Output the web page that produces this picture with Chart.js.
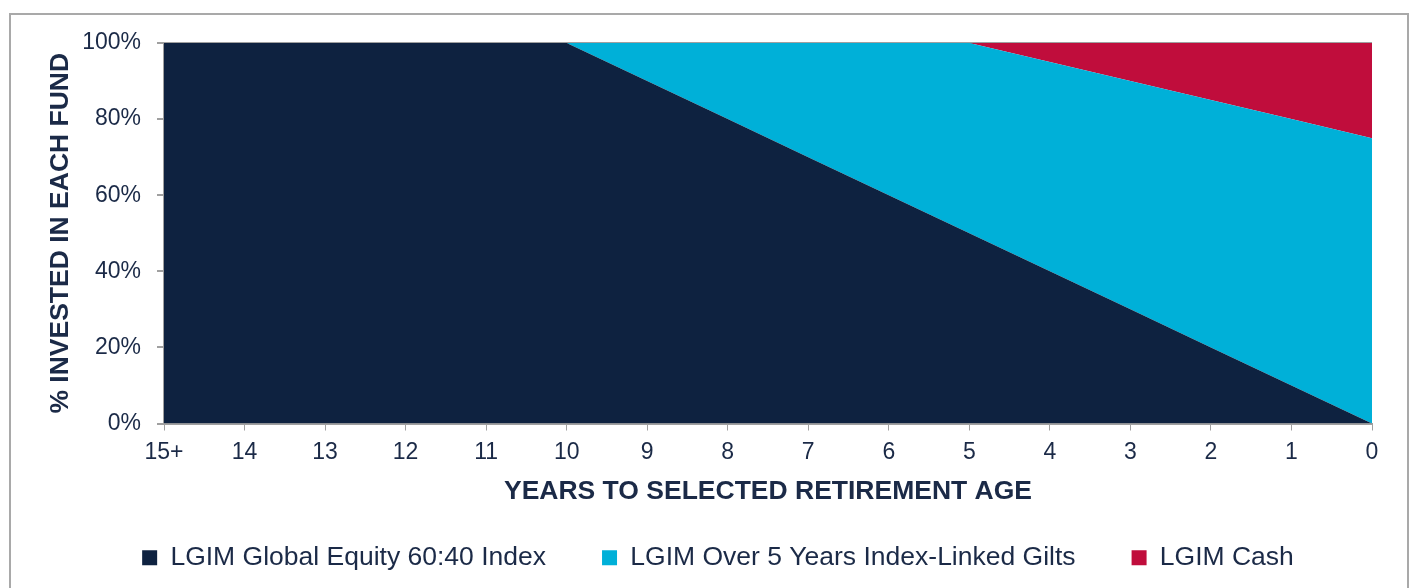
<!DOCTYPE html>
<html>
<head>
<meta charset="utf-8">
<script src="https://cdn.jsdelivr.net/npm/chart.js@4.4.1/dist/chart.umd.min.js"></script>
<style>
  html, body { margin: 0; padding: 0; background: #fff; }
  #wrap { position: relative; width: 1411px; height: 588px; overflow: hidden; }
  #frame { position: absolute; left: 9px; top: 13px; width: 1400px; height: 600px; border: 2px solid #a9a9a9; box-sizing: border-box; }
  canvas { position: absolute; left: 0; top: 0; }
</style>
</head>
<body>
<div id="wrap">
  <div id="frame"></div>
  <canvas id="chart" width="1411" height="588"></canvas>
</div>
<script>
// data
const years = ['15+', '14', '13', '12', '11', '10', '9', '8', '7', '6', '5', '4', '3', '2', '1', '0'];
const equity = [100, 100, 100, 100, 100, 100, 90, 80, 70, 60, 50, 40, 30, 20, 10, 0];
const gilts = [0, 0, 0, 0, 0, 0, 10, 20, 30, 40, 50, 55, 60, 65, 70, 75];
const cash = [0, 0, 0, 0, 0, 0, 0, 0, 0, 0, 0, 5, 10, 15, 20, 25];
const yTicks = [0, 20, 40, 60, 80, 100];

const navy = '#0e2240';
const textCol = '#1b2a47';
const axisGrey = '#a0a0a0';
const font = 'Liberation Sans, Arial, sans-serif';

const area = (label, data, color, fill) => ({
  label,
  data,
  backgroundColor: color,
  borderColor: color,
  borderWidth: 0,
  pointRadius: 0,
  fill,
  tension: 0,
});

// legend in the original is centred on the whole frame, not the plot side
const legendShift = {
  id: 'legendShift',
  afterLayout(chart) {
    chart.legend.left += 32;
    chart.legend.right += 32;
  },
};

const ctx = document.getElementById('chart').getContext('2d');
new Chart(ctx, {
  type: 'line',
  data: {
    labels: years,
    datasets: [
      area('LGIM Global Equity 60:40 Index', equity, navy, 'origin'),
      area('LGIM Over 5 Years Index-Linked Gilts', gilts, '#00b0d8', '-1'),
      area('LGIM Cash', cash, '#c00d3c', '-1'),
    ],
  },
  plugins: [legendShift],
  options: {
    responsive: false,
    animation: false,
    layout: { padding: { left: 0, right: 39, top: 43, bottom: 7 } },
    plugins: {
      tooltip: { enabled: false },
      legend: {
        position: 'bottom',
        labels: {
          color: textCol,
          font: { family: font, size: 26.5 },
          boxWidth: 15,
          boxHeight: 15,
          padding: 56,
        },
      },
    },
    scales: {
      x: {
        offset: false,
        grid: { drawOnChartArea: false, tickLength: 7, tickColor: axisGrey, color: axisGrey },
        border: { color: axisGrey, width: 2 },
        ticks: { color: textCol, font: { family: font, size: 23 }, padding: 8, maxRotation: 0, autoSkip: false },
        title: {
          display: true,
          text: 'YEARS TO SELECTED RETIREMENT AGE',
          color: textCol,
          font: { family: font, size: 26.5, weight: 'bold', lineHeight: 1 },
          padding: { top: 0, bottom: -16 },
        },
        afterFit: (s) => { s.height = 65; },
      },
      y: {
        stacked: true,
        min: 0,
        max: 100,
        z: 1,
        afterBuildTicks: (s) => { s.ticks = yTicks.map((v) => ({ value: v })); },
        grid: {
          color: (c) => (c.tick && c.tick.value === 100 ? axisGrey : 'rgba(0,0,0,0)'),
          lineWidth: 2,
          tickLength: 7,
          tickColor: axisGrey,
        },
        border: { color: axisGrey, width: 2 },
        ticks: {
          color: textCol,
          font: { family: font, size: 23 },
          padding: 16,
          callback: (v) => v + '%',
        },
        title: {
          display: true,
          text: '% INVESTED IN EACH FUND',
          color: textCol,
          font: { family: font, size: 26.5, weight: 'bold', lineHeight: 1 },
          padding: { top: 47, bottom: 0 },
        },
        afterFit: (s) => { s.width = 164; },
      },
    },
  },
});
</script>
</body>
</html>
